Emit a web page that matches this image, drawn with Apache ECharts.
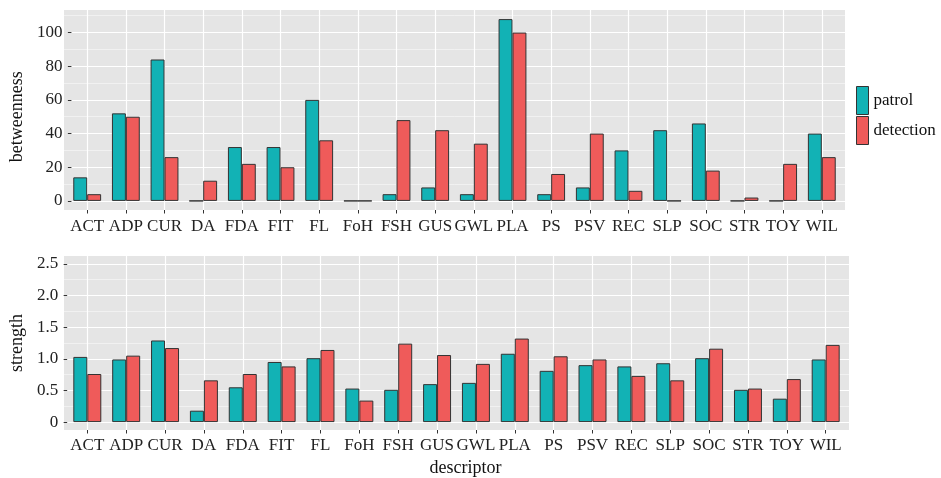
<!DOCTYPE html>
<html>
<head>
<meta charset="utf-8">
<script src="https://cdn.jsdelivr.net/npm/echarts@6/dist/echarts.min.js"></script>
<style>
html,body{margin:0;padding:0;background:#fff;}
#chart{width:941px;height:478px;}
</style>
</head>
<body>
<div id="chart"></div>
<script>
const categories = ['ACT','ADP','CUR','DA','FDA','FIT','FL','FoH','FSH','GUS','GWL','PLA','PS','PSV','REC','SLP','SOC','STR','TOY','WIL'];
const seriesNames = ['patrol','detection'];
const betweennessPatrol    = [14,52,84,0,32,32,60,0,4,8,4,108,4,8,30,42,46,0,0,40];
const betweennessDetection = [4,50,26,12,22,20,36,0,48,42,34,100,16,40,6,0,18,2,22,26];
const strengthPatrol    = [1.03,0.99,1.29,0.18,0.55,0.95,1.01,0.53,0.51,0.60,0.62,1.08,0.81,0.90,0.88,0.93,1.01,0.51,0.37,0.99];
const strengthDetection = [0.76,1.05,1.17,0.66,0.76,0.88,1.14,0.34,1.24,1.06,0.92,1.32,1.04,0.99,0.73,0.66,1.16,0.53,0.68,1.22];
const betweennessTicks = [0,20,40,60,80,100];
const strengthTicks = [0,0.5,1.0,1.5,2.0,2.5];
const betweennessMinor = [10,30,50,70,90,110];
const strengthMinor = [0.25,0.75,1.25,1.75,2.25];

const FONT = 'Liberation Serif';
const COLORS = ['#12B2B5', '#EF5B5A'];
const PANEL_BG = '#E5E5E5';

const panels = [
  {box:{left:64, top:10, width:781, height:200}, range:[-5.4,113.4], ticks:betweennessTicks, minor:betweennessMinor,
   name:'betweenness', data:[betweennessPatrol, betweennessDetection], fmt: v => String(v), xName:'', labelMargin:8},
  {box:{left:64, top:256, width:785, height:174}, range:[-0.125,2.625], ticks:strengthTicks, minor:strengthMinor,
   name:'strength', data:[strengthPatrol, strengthDetection], fmt: v => (v === 0 ? '0' : v.toFixed(1)), xName:'descriptor', labelMargin:7}
];

const grid = [], xAxis = [], yAxis = [], series = [], graphicEls = [];

panels.forEach((p, pi) => {
  const b = p.box;
  const yPos = v => b.top + (p.range[1] - v) / (p.range[1] - p.range[0]) * b.height;
  graphicEls.push({type:'rect', z:-10, silent:true, shape:{x:b.left, y:b.top, width:b.width, height:b.height}, style:{fill:PANEL_BG}});

  // H1: major horizontal gridlines, y labels
  const t0 = p.ticks[0], t1 = p.ticks[p.ticks.length-1];
  const gi = grid.length;
  grid.push({left:b.left, width:b.width, top:yPos(t1), height:yPos(t0)-yPos(t1), containLabel:false});
  xAxis.push({gridIndex:gi, type:'value', show:false, min:0, max:1});
  yAxis.push({gridIndex:gi, type:'value', min:t0, max:t1, interval:p.ticks[1]-p.ticks[0],
    axisLine:{show:false},
    axisTick:{show:true, length:3.5, lineStyle:{color:'#333', width:1}},
    axisLabel:{margin:9, color:'#222', fontFamily:FONT, fontSize:17, formatter:p.fmt},
    splitLine:{show:true, lineStyle:{color:'#FFFFFF', width:1.2}},
    name:p.name, nameLocation:'middle', nameRotate:90, nameGap:38,
    nameTextStyle:{fontFamily:FONT, fontSize:18, color:'#111'}
  });

  // H2: minor horizontal gridlines
  const m0 = p.minor[0], m1 = p.minor[p.minor.length-1];
  const gm = grid.length;
  grid.push({left:b.left, width:b.width, top:yPos(m1), height:yPos(m0)-yPos(m1)});
  xAxis.push({gridIndex:gm, type:'value', show:false, min:0, max:1});
  yAxis.push({gridIndex:gm, type:'value', min:0, max:p.minor.length-1, interval:1,
    axisLine:{show:false}, axisTick:{show:false}, axisLabel:{show:false},
    splitLine:{show:true, lineStyle:{color:'#F4F4F4', width:0.8}}
  });

  // V: bars + vertical gridlines + category labels
  const step = b.width / (categories.length - 1 + 1.2);
  const gv = grid.length;
  grid.push({left:b.left + 0.6*step, width:step*(categories.length-1), top:b.top, height:b.height});
  xAxis.push({gridIndex:gv, type:'category', data:categories, boundaryGap:false,
    axisLine:{show:false, onZero:false},
    axisTick:{show:true, interval:0, length:3.5, lineStyle:{color:'#333', width:1}},
    axisLabel:{interval:0, margin:p.labelMargin, color:'#222', fontFamily:FONT, fontSize:17},
    splitLine:{show:true, interval:0, lineStyle:{color:'#FFFFFF', width:1.2}},
    name:p.xName, nameLocation:'middle', nameGap:29,
    nameTextStyle:{fontFamily:FONT, fontSize:18, color:'#111', padding:[0,0,0,18]}
  });
  yAxis.push({gridIndex:gv, type:'value', show:false, min:p.range[0], max:p.range[1], splitLine:{show:false}});

  seriesNames.forEach((sn, si) => {
    series.push({
      type:'bar', name:sn, xAxisIndex:gv, yAxisIndex:gv, data:p.data[si],
      barGap:'0%', barCategoryGap:'28%', clip:false,
      itemStyle:{color:COLORS[si], borderColor:'#333', borderWidth:1},
      emphasis:{disabled:true}, animation:false
    });
  });
});

const chart = echarts.init(document.getElementById('chart'), null, {renderer:'canvas'});
chart.setOption({
  animation:false,
  backgroundColor:'#ffffff',
  color:COLORS,
  textStyle:{fontFamily:FONT},
  graphic:{elements:graphicEls},
  legend:{data:seriesNames, orient:'vertical', left:856, top:86, padding:0, itemWidth:12, itemHeight:28, itemGap:1,
    icon:'rect', itemStyle:{borderWidth:1, borderColor:'#333'},
    textStyle:{fontFamily:FONT, fontSize:17, color:'#111'}},
  grid, xAxis, yAxis, series
});
</script>
</body>
</html>
